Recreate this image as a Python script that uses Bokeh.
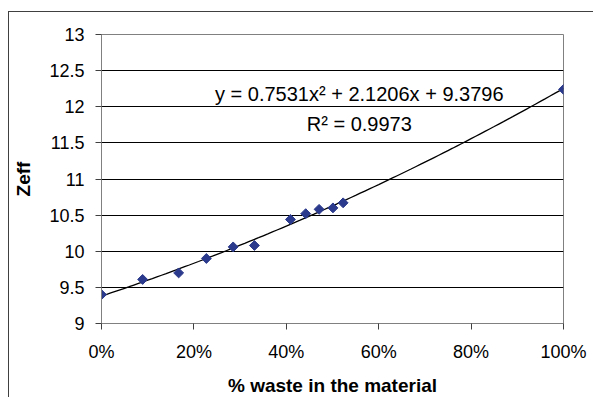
import numpy as np
from bokeh.plotting import figure
from bokeh.models import (FixedTicker, NumeralTickFormatter, Label,
                          ColumnDataSource, Range1d)
from bokeh.embed import file_html
from bokeh.resources import INLINE

# data
waste_frac = [0.0, 0.089, 0.167, 0.227, 0.285, 0.331, 0.409, 0.442, 0.471, 0.501, 0.523, 1.0]
zeff = [9.40, 9.61, 9.70, 9.90, 10.06, 10.08, 10.44, 10.52, 10.58, 10.60, 10.67, 12.24]

# trendline coefficients shown on the chart
coef_a, coef_b, coef_c = 0.7531, 2.1206, 9.3796
r_squared = 0.9973

x_ticks = [0.0, 0.2, 0.4, 0.6, 0.8, 1.0]
y_ticks = [9, 9.5, 10, 10.5, 11, 11.5, 12, 12.5, 13]

FONT = "Liberation Sans"

p = figure(width=585, height=386, output_backend="svg", toolbar_location=None,
           x_range=Range1d(0, 1), y_range=Range1d(9, 13),
           min_border_left=92, min_border_right=31, min_border_top=22, min_border_bottom=60)
p.margin = (11, 0, 0, 8)
p.styles = {"border-top": "1px solid #404040", "border-left": "1px solid #404040"}
p.background_fill_color = "white"
p.border_fill_color = "white"
p.outline_line_color = "#808080"
p.outline_line_width = 1

p.xgrid.visible = False
p.ygrid.grid_line_color = "black"
p.ygrid.grid_line_width = 1
p.ygrid.ticker = FixedTicker(ticks=y_ticks)

p.xaxis.ticker = FixedTicker(ticks=x_ticks)
p.xaxis.formatter = NumeralTickFormatter(format="0%")
p.yaxis.ticker = FixedTicker(ticks=y_ticks)
p.yaxis.formatter = NumeralTickFormatter(format="0.[0]")

for ax in (p.xaxis[0], p.yaxis[0]):
    ax.axis_line_color = "#808080"
    ax.major_tick_line_color = "#404040"
    ax.major_tick_out = 6
    ax.major_tick_in = 0
    ax.minor_tick_line_color = None
    ax.major_label_text_font = FONT
    ax.major_label_text_font_size = "18px"
    ax.major_label_text_color = "black"
    ax.axis_label_text_font = FONT
    ax.axis_label_text_font_size = "19px"
    ax.axis_label_text_font_style = "bold"
    ax.axis_label_text_color = "black"

p.xaxis.axis_label = "% waste in the material"
p.xaxis.major_label_standoff = 12
p.xaxis.axis_label_standoff = 10
p.yaxis.axis_label = "Zeff"
p.yaxis.major_label_standoff = 11
p.yaxis.axis_label_standoff = 12

# polynomial trendline from the displayed coefficients
xs = np.linspace(0, 1, 101)
ys = coef_a * xs**2 + coef_b * xs + coef_c
p.line(xs, ys, line_color="black", line_width=1.3)

src = ColumnDataSource(dict(x=waste_frac, y=zeff))
p.scatter("x", "y", source=src, marker="square", size=7, angle=np.pi / 4,
          fill_color="#2B3A8C", line_color="#2B3A8C")

eq = f"y = {coef_a}x\u00b2 + {coef_b}x + {coef_c}"
p.add_layout(Label(x=0.558, y=12.176, text=eq, text_align="center", text_baseline="middle",
                   text_font=FONT, text_font_size="20px", text_color="black"))
p.add_layout(Label(x=0.558, y=11.76, text=f"R\u00b2 = {r_squared}", text_align="center",
                   text_baseline="middle", text_font=FONT, text_font_size="20px",
                   text_color="black"))

open("out.html", "w").write(file_html(p, INLINE))
